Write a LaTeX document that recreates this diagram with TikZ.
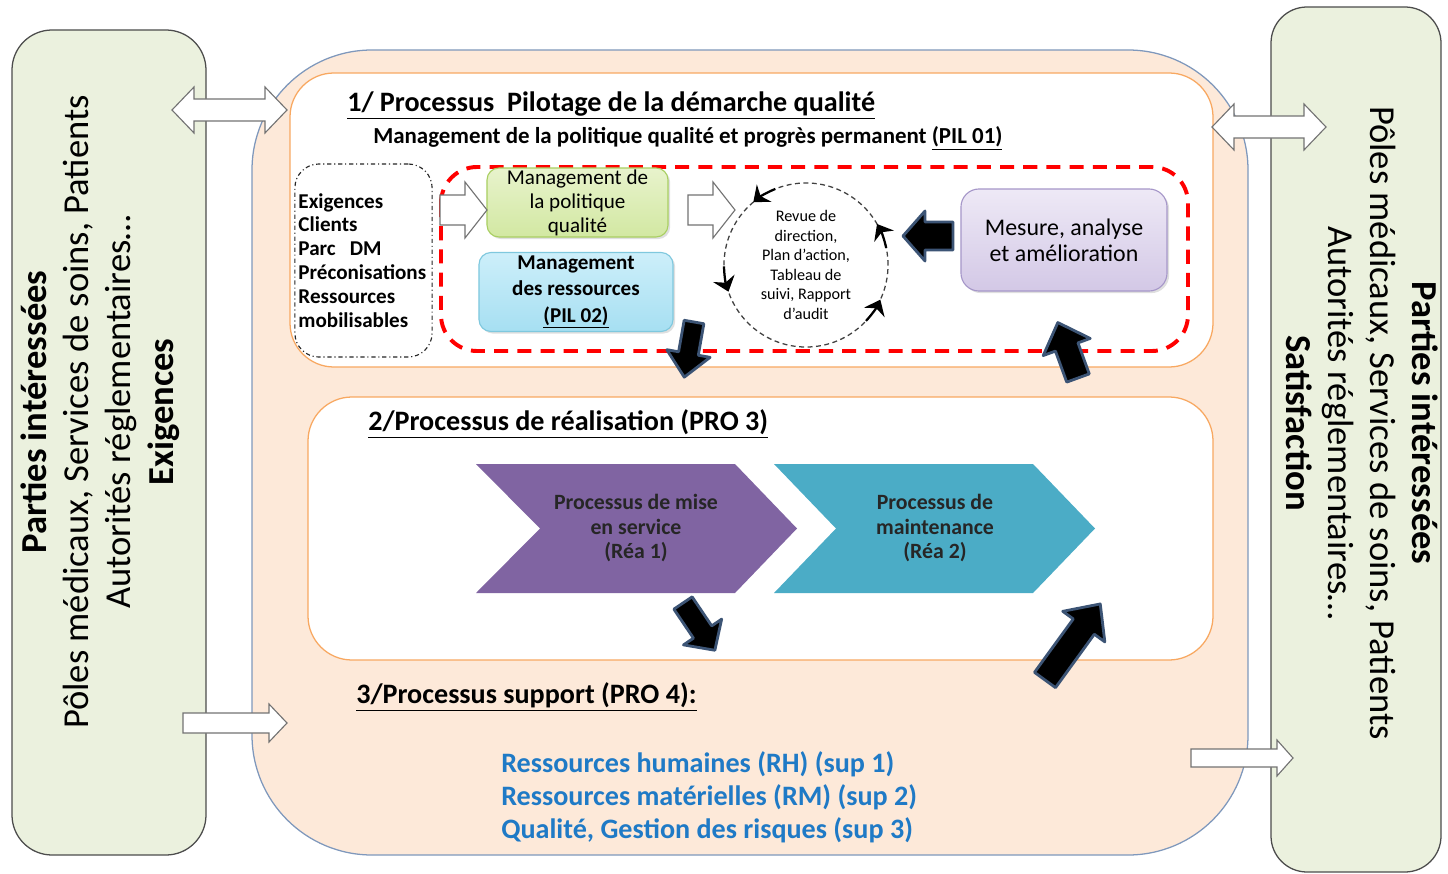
\documentclass[tikz,border=0pt]{standalone}
\usepackage{fontspec}
\setmainfont{Carlito}
\usepackage{xcolor}
\usepackage{tikz}
\usetikzlibrary{calc, positioning, arrows.meta, shadows}

\definecolor{vertpale}{HTML}{EBF1DE}
\definecolor{peche}{HTML}{FDE9D9}
\definecolor{bordbleu}{HTML}{7F98BC}
\definecolor{orangeclair}{HTML}{F8A861}
\definecolor{violetrea}{HTML}{8064A2}
\definecolor{turqrea}{HTML}{4BACC6}
\definecolor{bleutexte}{HTML}{1F7AC6}
\definecolor{contour}{HTML}{3C5475}
\definecolor{verthaut}{HTML}{E8F3CC}
\definecolor{vertbas}{HTML}{D2E8A2}
\definecolor{vertbord}{HTML}{A9CF62}
\definecolor{bleuhaut}{HTML}{CDEFFA}
\definecolor{bleubas}{HTML}{A6DFF2}
\definecolor{bleubord}{HTML}{7FC8DE}
\definecolor{mauvehaut}{HTML}{EEE9F6}
\definecolor{mauvebas}{HTML}{D3C8E6}
\definecolor{mauvebord}{HTML}{A697C9}

% fleches pleines : longueur, corps, tete (largeur), tete (longueur)
\tikzset{
  pics/fleche/.style n args={4}{code={%
    \draw[pic actions] (0,-#2/2) -- ({#1-#4},-#2/2) -- ({#1-#4},-#3/2) -- (#1,0)
      -- ({#1-#4},#3/2) -- ({#1-#4},#2/2) -- (0,#2/2) -- cycle;}},
  pics/dfleche/.style n args={4}{code={%
    \draw[pic actions] (0,0) -- (#4,-#3/2) -- (#4,-#2/2) -- ({#1-#4},-#2/2) -- ({#1-#4},-#3/2) -- (#1,0)
      -- ({#1-#4},#3/2) -- ({#1-#4},#2/2) -- (#4,#2/2) -- (#4,#3/2) -- cycle;}},
}

\begin{document}
\begin{tikzpicture}[x=0.025cm, y=-0.025cm, >=stealth,
    panneau/.style={draw=black!70, fill=vertpale, line width=0.9pt, rounded corners=1cm},
    zone/.style={draw=orangeclair, fill=white, line width=0.9pt, rounded corners=1.1cm},
    blanche/.style={draw=black!55, fill=white, line width=0.8pt},
    noire/.style={draw=contour, fill=black, line width=2pt, line join=round},
    titre/.style={anchor=west, inner sep=0pt, font=\bfseries\fontsize{20}{24}\selectfont},
    boite/.style={rounded corners=0.3cm, line width=0.8pt, align=center, inner sep=0pt,
                  drop shadow={opacity=0.25, shadow xshift=1.5pt, shadow yshift=-1.5pt}},
]
\useasboundingbox (0,0) rectangle (1448,874);

    % =================================================================
    % 1. PARTIES INTERESSEES ET CADRE GENERAL
    % =================================================================
    \draw[panneau] (12,30) rectangle (206,855);
    \draw[panneau, rounded corners=0.9cm] (1271,7) rectangle (1441,872);

    \draw[draw=bordbleu, fill=peche, line width=0.9pt, rounded corners=3cm] (252,50) rectangle (1248,855);
    \draw[zone] (290,73) rectangle (1213,367);
    \draw[zone] (308,397) rectangle (1213,660);
    \draw[red, line width=2.8pt, dash pattern=on 10pt off 6.5pt, rounded corners=0.9cm] (441,167) rectangle (1188,351);

    \node[rotate=90, align=center, font=\fontsize{26}{30}\selectfont] (gauche) at (100,412)
        {\textbf{Parties intéressées}\\Pôles médicaux, Services de soins, Patients\\Autorités réglementaires…\\\textbf{Exigences}};
    \node[rotate=-90, align=center, font=\fontsize{26}{30}\selectfont] (droite) at (1362,423)
        {\textbf{Parties intéressées}\\Pôles médicaux, Services de soins, Patients\\Autorités réglementaires…\\\textbf{Satisfaction}};

    % =================================================================
    % 2. PILOTAGE
    % =================================================================
    \node[titre] (pil) at (347,105) {\underline{1/ Processus\ \ Pilotage de la démarche qualité}};
    \node[anchor=west, inner sep=0pt, font=\bfseries\fontsize{16.3}{19}\selectfont] (pil01) at (373,138)
        {Management de la politique qualité et progrès permanent \underline{(PIL 01)}};

    \node[draw=black!85, line width=0.8pt, dash dot, rounded corners=0.6cm, minimum width=3.425cm, minimum height=4.825cm,
          align=left, text width=3.25cm, inner xsep=0.09cm, font=\bfseries\fontsize{15}{17}\selectfont]
          (exig) at (363.5,260.5) {Exigences\\Clients\\Parc~ DM\\Préconisations\\Ressources\\mobilisables};

    \node[boite, draw=vertbord, top color=verthaut, bottom color=vertbas, minimum width=4.525cm, minimum height=1.725cm,
          font=\fontsize{15}{17}\selectfont] (polq) at (577.5,202.5) {Management de\\la politique\\qualité};
    \node[boite, draw=bleubord, top color=bleuhaut, bottom color=bleubas, minimum width=4.85cm, minimum height=1.975cm,
          font=\bfseries\fontsize{15}{19}\selectfont] (res) at (576,292) {Management\\des ressources\\\underline{(PIL 02)}};
    \node[boite, rounded corners=0.45cm, draw=mauvebord, top color=mauvehaut, bottom color=mauvebas,
          minimum width=5.15cm, minimum height=2.55cm, font=\fontsize{17}{18.5}\selectfont]
          (mesure) at (1064,240) {Mesure, analyse\\et amélioration};

    \node[circle, draw=black!75, dash pattern=on 3.5pt off 2.5pt, line width=0.9pt, minimum size=4.1cm,
          inner sep=0pt, align=center, font=\fontsize{11.5}{13.9}\selectfont] (revue) at (806,265)
          {Revue de\\direction,\\Plan d’action,\\Tableau de\\suivi, Rapport\\d’audit};
    \foreach \a in {130, 30, 199, 335}
        \draw[black, line width=1.6pt, -{Stealth[length=10pt, width=16pt]}]
            ($(revue.center)+({-\a+18}:82)$) arc[start angle={-\a+18}, end angle={-\a}, radius=82];

    % =================================================================
    % 3. REALISATION ET SUPPORT
    % =================================================================
    \node[titre] (pro3) at (368,424) {\underline{2/Processus de réalisation (PRO 3)}};

    \fill[violetrea] (476,464) -- (735,464) -- (797,528.5) -- (735,593) -- (476,593) -- (540,528.5) -- cycle;
    \fill[turqrea] (774,464) -- (1033,464) -- (1095,528.5) -- (1033,593) -- (774,593) -- (836,528.5) -- cycle;
    \node[align=center, text=black!85, font=\bfseries\fontsize{15.5}{17.4}\selectfont] (mise) at (636,528)
        {Processus de mise\\en service\\(Réa 1)};
    \node[align=center, text=black!85, font=\bfseries\fontsize{15.5}{17.4}\selectfont] (maint) at (935,528)
        {Processus de\\maintenance\\(Réa 2)};

    \node[titre] (pro4) at (356,697) {\underline{3/Processus support (PRO 4):}};
    \node[anchor=west, inner sep=0pt, align=left, text=bleutexte, font=\bfseries\fontsize{20}{23.4}\selectfont]
        (sup) at (501,797.5) {Ressources humaines (RH) (sup 1)\\Ressources matérielles (RM) (sup 2)\\Qualité, Gestion des risques (sup 3)};

    % =================================================================
    % 4. FLECHES
    % =================================================================
    \pic[blanche] at (172,110) {dfleche={115}{22}{46}{22}};
    \pic[blanche] at (1212,127) {dfleche={114}{22}{46}{22}};
    \pic[blanche] at (183,723) {fleche={104}{20}{38}{18}};
    \pic[blanche] at (1191,758) {fleche={102}{18}{36}{16}};
    \pic[blanche] at (440,210) {fleche={47}{30}{56}{22}};
    \pic[blanche] at (688,210) {fleche={47}{30}{56}{22}};

    \pic[noire, rotate=-100] at (694,322) {fleche={56}{20}{44}{24}};
    \pic[noire, rotate=110] at (1078,378) {fleche={59}{24}{50}{26}};
    \pic[noire, rotate=180] at (953,236) {fleche={50}{28}{50}{22}};
    \pic[noire, rotate=-56] at (683,603) {fleche={57}{22}{46}{22}};
    \pic[noire, rotate=54] at (1045,680) {fleche={94}{26}{52}{28}};

\end{tikzpicture}
\end{document}
